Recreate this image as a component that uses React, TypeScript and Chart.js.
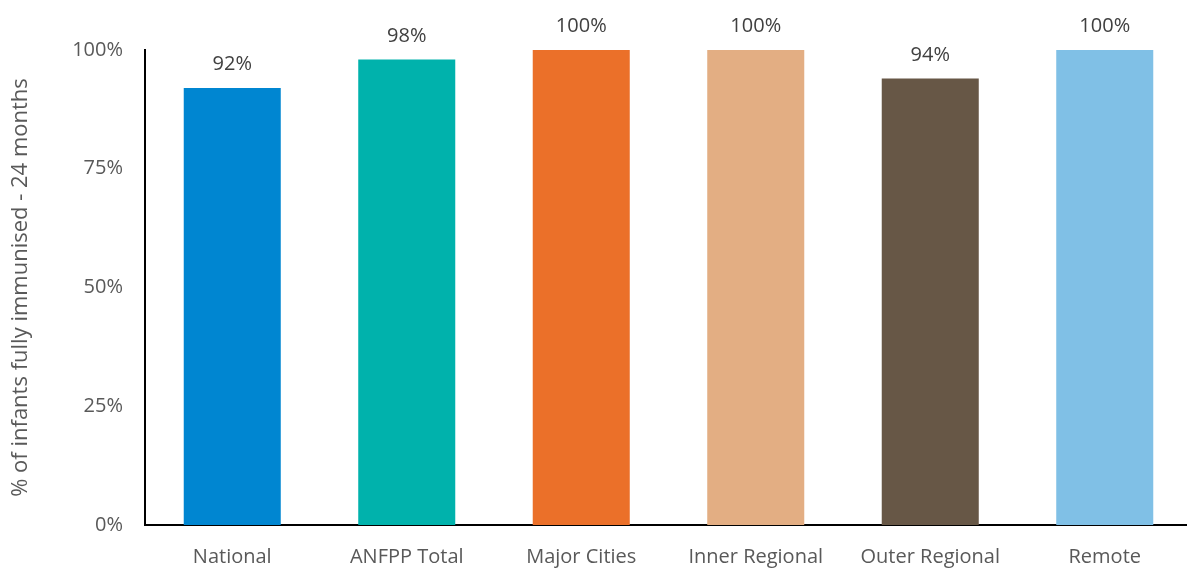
import React, { useEffect, useRef } from "react";
import { Chart, registerables } from "chart.js";

Chart.register(...registerables);

const categories = ["National", "ANFPP Total", "Major Cities", "Inner Regional", "Outer Regional", "Remote"];
const values = [92, 98, 100, 100, 94, 100];
const colors = ["#0086D1", "#00B2AC", "#EB7029", "#E3AE83", "#675746", "#80C0E6"];
const yTicks = [0, 25, 50, 75, 100];
const yTitle = "% of infants fully immunised - 24 months";

const FONT = "'Open Sans', 'Noto Sans', sans-serif";

const labelPlugin = {
  id: "barLabels",
  afterDatasetsDraw(chart: any) {
    const ctx = chart.ctx;
    const meta = chart.getDatasetMeta(0);
    ctx.save();
    ctx.font = `20px ${FONT}`;
    ctx.fillStyle = "#404040";
    ctx.textAlign = "center";
    ctx.textBaseline = "alphabetic";
    meta.data.forEach((bar: any, i: number) => {
      ctx.fillText(values[i] + "%", bar.x, bar.y - 18);
    });
    ctx.restore();
  },
};

export default function App() {
  const ref = useRef<HTMLCanvasElement>(null);
  useEffect(() => {
    document.body.style.margin = "0";
    document.body.style.overflow = "hidden";
    const chart = new Chart(ref.current!, {
      type: "bar",
      data: {
        labels: categories,
        datasets: [
          {
            data: values,
            backgroundColor: colors,
            barPercentage: 0.556,
            categoryPercentage: 1,
          },
        ],
      },
      options: {
        animation: false,
        responsive: false,
        maintainAspectRatio: false,
        layout: { padding: { top: 50, right: 0, left: 8, bottom: 0 } },
        plugins: { legend: { display: false }, tooltip: { enabled: false } },
        scales: {
          x: {
            grid: { display: false, drawTicks: false },
            border: { color: "#000", width: 2 },
            ticks: { color: "#595959", font: { size: 20, family: FONT }, padding: 20 },
            afterFit(scale: any) {
              scale.height = 44;
            },
          },
          y: {
            min: 0,
            max: 100,
            afterBuildTicks(scale: any) {
              scale.ticks = yTicks.map((v) => ({ value: v }));
            },
            grid: { display: false, drawTicks: false },
            border: { color: "#000", width: 2 },
            ticks: {
              color: "#595959",
              font: { size: 20, family: FONT },
              padding: 22,
              callback: (v: any) => v + "%",
            },
            title: {
              display: true,
              text: yTitle,
              color: "#595959",
              font: { size: 22, family: FONT },
              padding: { top: 0, bottom: 0 },
            },
            afterFit(scale: any) {
              scale.width = 137;
            },
          },
        },
      },
      plugins: [labelPlugin],
    });
    return () => chart.destroy();
  }, []);
  return (
    <div style={{ width: 1187, height: 569, overflow: "hidden" }}>
      <canvas ref={ref} width={1192} height={569} style={{ display: "block" }} />
    </div>
  );
}
